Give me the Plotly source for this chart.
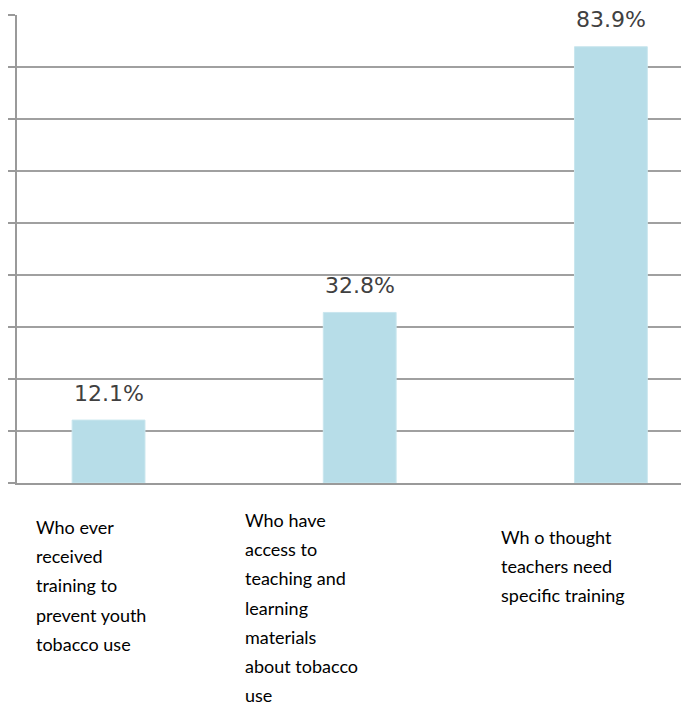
import plotly.graph_objects as go

categories = [
    "Who ever received training to prevent youth tobacco use",
    "Who have access to teaching and learning materials about tobacco use",
    "Wh o thought teachers need specific training",
]
label_lines = [
    ["Who ever", "received", "training to", "prevent youth", "tobacco use"],
    ["Who have", "access to", "teaching and", "learning", "materials", "about tobacco", "use"],
    ["Wh o thought", "teachers need", "specific training"],
]
values = [12.1, 32.8, 83.9]
value_labels = ["12.1%", "32.8%", "83.9%"]

OFF = 8  # default page body margin
W, H = 689 - OFF, 713 - OFF
L, R, T, B = 17 - OFF, 0, 15 - OFF, 230
pw, ph = W - L - R, H - T - B

def px_x(px):
    return (px - OFF - L) / pw

def px_y(py):
    return (H - B - (py - OFF)) / ph

fig = go.Figure()
fig.add_trace(go.Bar(
    x=[0, 1, 2], y=values, width=0.29,
    marker=dict(color="#B7DDE8", line=dict(color="#C9E6EE", width=1)),
    hoverinfo="skip", customdata=categories,
))

ann = []
for i, (v, t) in enumerate(zip(values, value_labels)):
    ann.append(dict(x=i, y=v, xref="x", yref="y", text=t, showarrow=False,
                    yanchor="middle", yshift=27,
                    font=dict(family="DejaVu Sans", size=22, color="#404040")))

starts = [(35, 527), (244, 520), (500, 537)]
for (lx, ly), lines in zip(starts, label_lines):
    for j, line in enumerate(lines):
        ann.append(dict(x=px_x(lx), y=px_y(ly + j * 29.2), xref="paper", yref="paper",
                        text=line, showarrow=False, xanchor="left", yanchor="middle",
                        xshift=-1,
                        font=dict(family="Lato, Open Sans", size=18, color="#000000")))

fig.update_layout(
    width=W, height=H, autosize=False,
    margin=dict(l=L, r=R, t=T, b=B, pad=0),
    paper_bgcolor="white", plot_bgcolor="white",
    showlegend=False, annotations=ann,
    xaxis=dict(range=[-0.3645, 2.311], showticklabels=False, showgrid=False,
               zeroline=False, showline=True, linecolor="#9a9a9a", linewidth=2,
               fixedrange=True),
    yaxis=dict(range=[0, 90], dtick=10, showticklabels=False, showgrid=True,
               gridcolor="#a0a0a0", gridwidth=1.5, zeroline=False,
               showline=True, linecolor="#9a9a9a", linewidth=2,
               ticks="outside", ticklen=7, tickwidth=2, tickcolor="#9a9a9a"),
)
fig.write_html("out.html")
